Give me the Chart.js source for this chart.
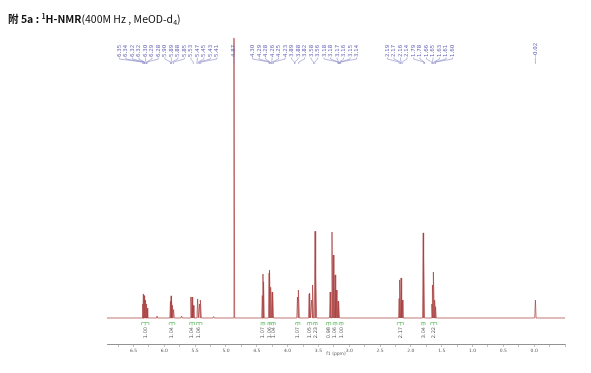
<!DOCTYPE html>
<html>
<head>
<meta charset="utf-8">
<script src="https://cdn.jsdelivr.net/npm/chart.js@4.4.1/dist/chart.umd.min.js"></script>
<style>
html, body { margin: 0; padding: 0; background: #fff; }
#wrap { position: relative; width: 591px; height: 373px; }
#c { position: absolute; left: 0; top: 0; }
#title { position: absolute; left: 8px; top: 9px; font-family: "Noto Sans CJK SC", "Noto Sans", sans-serif; font-size: 10.5px; line-height: 15px; color: #111; white-space: nowrap; }
#title .sup { font-size: 7px; vertical-align: 4px; }
#title .sub { font-size: 7px; vertical-align: -2px; }
</style>
</head>
<body>
<div id="wrap">
  <canvas id="c" width="591" height="373"></canvas>
  <div id="title"><b>附 5a : <span class="sup">1</span>H-NMR</b>(400M Hz , MeOD-d<span class="sub">4</span>)</div>
</div>
<script>
// peak lines (ppm, relative height, water = 100)
const peakPpm = [6.35, 6.34, 6.33, 6.32, 6.30, 6.29, 6.28, 6.12,
    5.90, 5.89, 5.88, 5.87, 5.85, 5.72,
    5.57, 5.55, 5.53, 5.46, 5.43, 5.41, 5.20,
    4.87,
    4.41, 4.40, 4.39, 4.30, 4.29, 4.27, 4.25, 4.24,
    3.84, 3.82,
    3.65, 3.64, 3.61, 3.59, 3.555, 3.54,
    3.31, 3.28, 3.26, 3.23, 3.21, 3.18, 3.17,
    2.19, 2.18, 2.16, 2.14,
    1.80, 1.79,
    1.66, 1.645, 1.63, 1.61, 1.60,
    -0.02];
const peakHeight = [5, 8.6, 8.2, 7.9, 6.4, 5, 3.5, 0.7,
    6, 7.9, 6.4, 4.5, 3, 0.7,
    7.5, 7.5, 4.5, 6.8, 5, 6.4, 0.5,
    100,
    8, 15.7, 12.9, 16.1, 17.1, 11, 9.3, 8.9,
    7.5, 10,
    8.6, 8.9, 6.4, 11.8, 31, 14.6,
    9.3, 30.7, 22.5, 15.4, 10, 6, 5.7,
    7, 13.6, 14.3, 6.4,
    30.4, 22,
    5, 11.8, 16.4, 6.4, 4,
    6.4];

// peak picking labels on top
const peakLabels = ["6.35", "6.34", "6.32", "6.32", "6.30", "6.29", "6.28",
    "5.90", "5.89", "5.88", "5.85",
    "5.53", "5.47", "5.45", "5.43", "5.41",
    "4.87",
    "4.30", "4.29", "4.28", "4.26", "4.25", "4.23",
    "3.89", "3.88", "3.82",
    "3.58", "3.56",
    "3.18", "3.18", "3.17", "3.16", "3.15", "3.14",
    "2.19", "2.17", "2.16", "2.14",
    "1.79", "1.78",
    "1.66", "1.65", "1.63", "1.61", "1.60",
    "-0.02"];

// integrals under the axis
const intFrom = [6.37, 5.92, 5.59, 5.48, 4.43, 4.32, 4.26, 3.87, 3.68, 3.58, 3.37, 3.26, 3.16, 2.22, 1.83, 1.68];
const intTo = [6.25, 5.83, 5.51, 5.39, 4.37, 4.27, 4.20, 3.80, 3.61, 3.52, 3.30, 3.20, 3.10, 2.12, 1.77, 1.58];
const intValues = ["1.00", "1.04", "1.04", "1.06", "1.07", "1.06", "1.04", "1.07", "1.05", "2.23", "0.98", "1.06", "1.00", "2.17", "3.04", "2.22"];

const ppmMin = -0.5;
const ppmMax = 6.93;

// spectrum trace: baseline with a narrow spike for every peak
const spectrum = [{ x: ppmMax, y: 0 }];
const foot = 0.011;
peakPpm.forEach((p, i) => {
    spectrum.push({ x: p + foot, y: 0 });
    spectrum.push({ x: p, y: peakHeight[i] });
    spectrum.push({ x: p - foot, y: 0 });
});
spectrum.push({ x: ppmMin, y: 0 });

function spreadLabels(xs, sp) {
    let clusters = xs.map(x => ({ n: 1, c: x }));
    let merged = true;
    while (merged) {
        merged = false;
        for (let i = 0; i < clusters.length - 1; i++) {
            const a = clusters[i], b = clusters[i + 1];
            const aRight = a.c + (a.n - 1) / 2 * sp;
            const bLeft = b.c - (b.n - 1) / 2 * sp;
            if (bLeft - aRight < sp) {
                const n = a.n + b.n;
                a.c = (a.c * a.n + b.c * b.n) / n;
                a.n = n;
                clusters.splice(i + 1, 1);
                merged = true;
                break;
            }
        }
    }
    const out = [];
    clusters.forEach(cl => {
        for (let k = 0; k < cl.n; k++) out.push(cl.c + (k - (cl.n - 1) / 2) * sp);
    });
    return out;
}

const annotations = {
    id: "nmrAnnotations",
    afterDatasetsDraw(chart) {
        const ctx = chart.ctx;
        const xs = chart.scales.x;

        // peak labels
        const ideal = peakLabels.map(t => xs.getPixelForValue(parseFloat(t)));
        const slots = spreadLabels(ideal, 6.5);
        ctx.save();
        ctx.font = "5.5px 'DejaVu Sans'";
        ctx.fillStyle = "#6464b4";
        ctx.strokeStyle = "#8a8ac8";
        ctx.lineWidth = 0.6;
        peakLabels.forEach((t, i) => {
            const lx = slots[i];
            ctx.save();
            ctx.translate(lx, 57);
            ctx.rotate(-Math.PI / 2);
            ctx.textAlign = "left";
            ctx.textBaseline = "middle";
            ctx.fillText(t, 0, 0);
            ctx.restore();
            ctx.beginPath();
            ctx.moveTo(lx, 57.5);
            ctx.lineTo(lx, 59);
            ctx.lineTo(ideal[i], 62);
            ctx.lineTo(ideal[i], 64);
            ctx.stroke();
        });
        ctx.restore();

        // integrals
        ctx.save();
        ctx.font = "5px 'DejaVu Sans'";
        intValues.forEach((v, i) => {
            const x1 = xs.getPixelForValue(intFrom[i]);
            const x2 = xs.getPixelForValue(intTo[i]);
            ctx.strokeStyle = "#6cbf6c";
            ctx.lineWidth = 0.7;
            ctx.beginPath();
            ctx.moveTo(x1, 325);
            ctx.lineTo(x1, 322.5);
            ctx.lineTo(x2, 322.5);
            ctx.lineTo(x2, 325);
            ctx.moveTo((x1 + x2) / 2, 322.5);
            ctx.lineTo((x1 + x2) / 2, 325.5);
            ctx.stroke();
            ctx.save();
            ctx.translate((x1 + x2) / 2, 327);
            ctx.rotate(-Math.PI / 2);
            ctx.textAlign = "right";
            ctx.textBaseline = "middle";
            ctx.fillStyle = "#555";
            ctx.fillText(v, 0, 0);
            ctx.restore();
        });
        ctx.restore();

        // axis title
        ctx.save();
        ctx.font = "4.5px 'DejaVu Sans'";
        ctx.fillStyle = "#555";
        ctx.textAlign = "center";
        ctx.textBaseline = "middle";
        ctx.fillText("f1 (ppm)", (chart.chartArea.left + chart.chartArea.right) / 2, 354);
        ctx.restore();
    }
};

new Chart(document.getElementById("c").getContext("2d"), {
    type: "scatter",
    data: {
        datasets: [{
            data: spectrum,
            showLine: true,
            borderColor: "#a83c3c",
            borderWidth: 0.7,
            pointRadius: 0,
            tension: 0
        }]
    },
    options: {
        responsive: false,
        animation: false,
        devicePixelRatio: 1,
        layout: {
            padding: { left: 107, right: 26, top: 30, bottom: 0 }
        },
        plugins: {
            legend: { display: false },
            tooltip: { enabled: false }
        },
        scales: {
            x: {
                type: "linear",
                reverse: true,
                min: ppmMin,
                max: ppmMax,
                afterFit(scale) { scale.height = 29; },
                grid: {
                    drawOnChartArea: false,
                    drawTicks: true,
                    tickLength: 3,
                    color: "#999",
                    lineWidth: 0.6
                },
                border: { display: true, color: "#777", width: 0.8 },
                ticks: {
                    stepSize: 0.25,
                    includeBounds: false,
                    autoSkip: false,
                    maxRotation: 0,
                    padding: 1.5,
                    color: "#555",
                    font: { size: 4.5, family: "DejaVu Sans" },
                    callback(v) {
                        if (v < -0.01) return "";
                        const half = v * 2;
                        return Math.abs(half - Math.round(half)) < 1e-6 ? v.toFixed(1) : "";
                    }
                }
            },
            y: {
                display: false,
                min: -9.29,
                max: 102.9
            }
        }
    },
    plugins: [annotations]
});
</script>
</body>
</html>
